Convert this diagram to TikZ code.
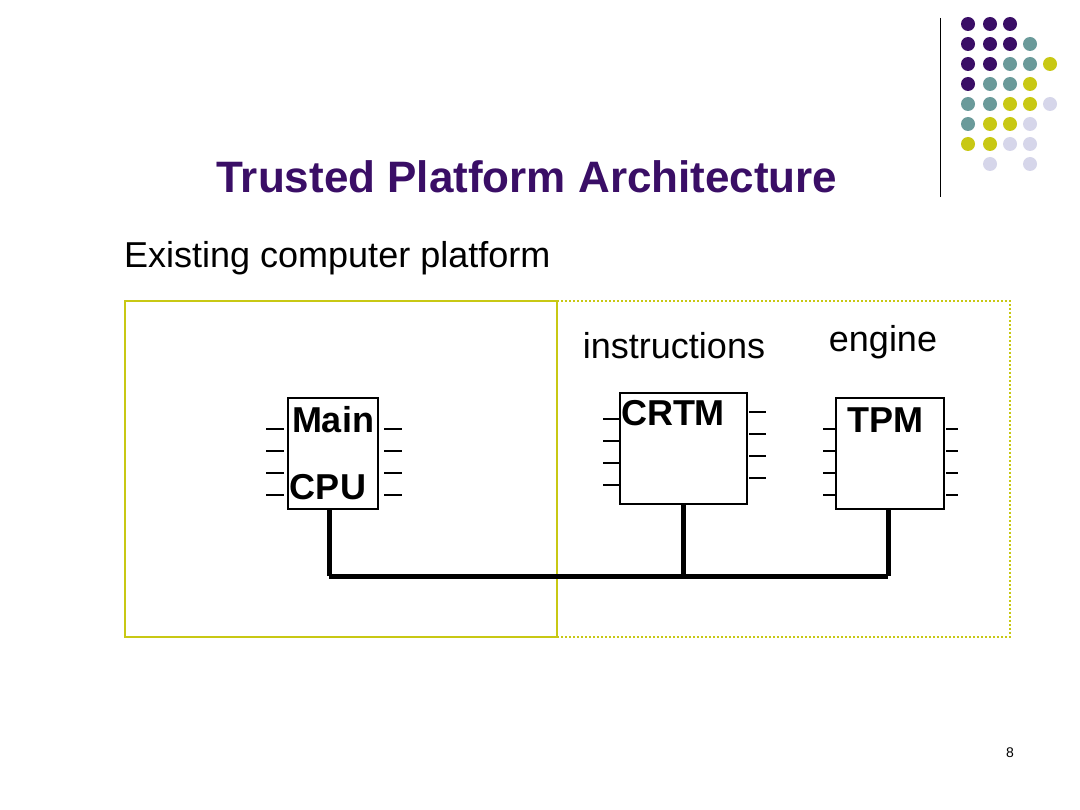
\documentclass[tikz,border=0pt]{standalone}
\usepackage{fontspec}
\setmainfont{Liberation Sans}
\begin{document}
\begin{tikzpicture}[x=1pt,y=-1pt,
  pin/.style={line width=2.5pt},
  chip/.style={draw,line width=2.5pt,fill=white},
  lbl/.style={font=\fontsize{36}{38}\selectfont\bfseries,inner sep=0pt},
  bus/.style={line width=5pt},
  dot/.style={circle,inner sep=0pt,minimum size=14pt}]
\definecolor{pu}{HTML}{3A0E66}
\definecolor{te}{HTML}{6A9A9A}
\definecolor{ye}{HTML}{C8C814}
\definecolor{la}{HTML}{D6D6EA}
\useasboundingbox (0,0) rectangle (1080,810);
\draw[line width=1pt] (940,18) -- (940,197);
\foreach \c/\x/\y in {pu/968/24,pu/990/24,pu/1010/24,
 pu/968/44,pu/990/44,pu/1010/44,te/1030/44,
 pu/968/64,pu/990/64,te/1010/64,te/1030/64,ye/1050/64,
 pu/968/84,te/990/84,te/1010/84,ye/1030/84,
 te/968/104,te/990/104,ye/1010/104,ye/1030/104,la/1050/104,
 te/968/124,ye/990/124,ye/1010/124,la/1030/124,
 ye/968/144,ye/990/144,la/1010/144,la/1030/144,
 la/990/164,la/1030/164}
 \node[dot,fill=\c] at (\x,\y) {};
\node[font=\fontsize{44}{46}\selectfont\bfseries,text=pu] (title) at (527,177) {Trusted Platform Architecture};
\node[font=\fontsize{36}{38}\selectfont,anchor=west,inner sep=0pt] (sub) at (124,258) {Existing computer platform};
\draw[ye,line width=2.5pt] (125,301) rectangle (557,637);
\draw[ye,line width=2pt,dotted] (557,301) -- (1010,301) -- (1010,637) -- (557,637);
\node[font=\fontsize{36}{38}\selectfont,inner sep=0pt] (ins) at (674,346) {instructions};
\node[font=\fontsize{36}{38}\selectfont,inner sep=0pt] (eng) at (883,342) {engine};
% chips
\node[chip,minimum width=90pt,minimum height=111pt] (cpu) at (333,453.5) {};
\node[chip,minimum width=127pt,minimum height=111pt] (crtm) at (683.5,448.5) {};
\node[chip,minimum width=108pt,minimum height=111pt] (tpm) at (890,453.5) {};
\foreach \y in {429,451,473,495} {
  \draw[pin] (266,\y) -- (284,\y); \draw[pin] (384,\y) -- (402,\y);
  \draw[pin] (823,\y) -- (835,\y); \draw[pin] (946,\y) -- (958,\y);}
\foreach \y in {419,441,463,485} \draw[pin] (603,\y) -- (619,\y);
\foreach \y in {412,434,456,478} \draw[pin] (749,\y) -- (766,\y);
\node[lbl] (tmain) at (333,420) {Main};
\node[lbl] (tcpu) at (328,487) {CPU};
\node[lbl] (tcrtm) at (673,413) {CRTM};
\node[lbl] (ttpm) at (885,420) {TPM};
\coordinate (b1) at (329,576); \coordinate (b2) at (683,576); \coordinate (b3) at (888,576);
\draw[bus] (b1) -- (b3);
\draw[bus] (cpu.south -| b1) -- (b1);
\draw[bus] (crtm.south -| b2) -- (b2);
\draw[bus] (tpm.south -| b3) -- (b3);
\node[font=\fontsize{14}{16}\selectfont] (pg) at (1010,753) {8};
\end{tikzpicture}
\end{document}
